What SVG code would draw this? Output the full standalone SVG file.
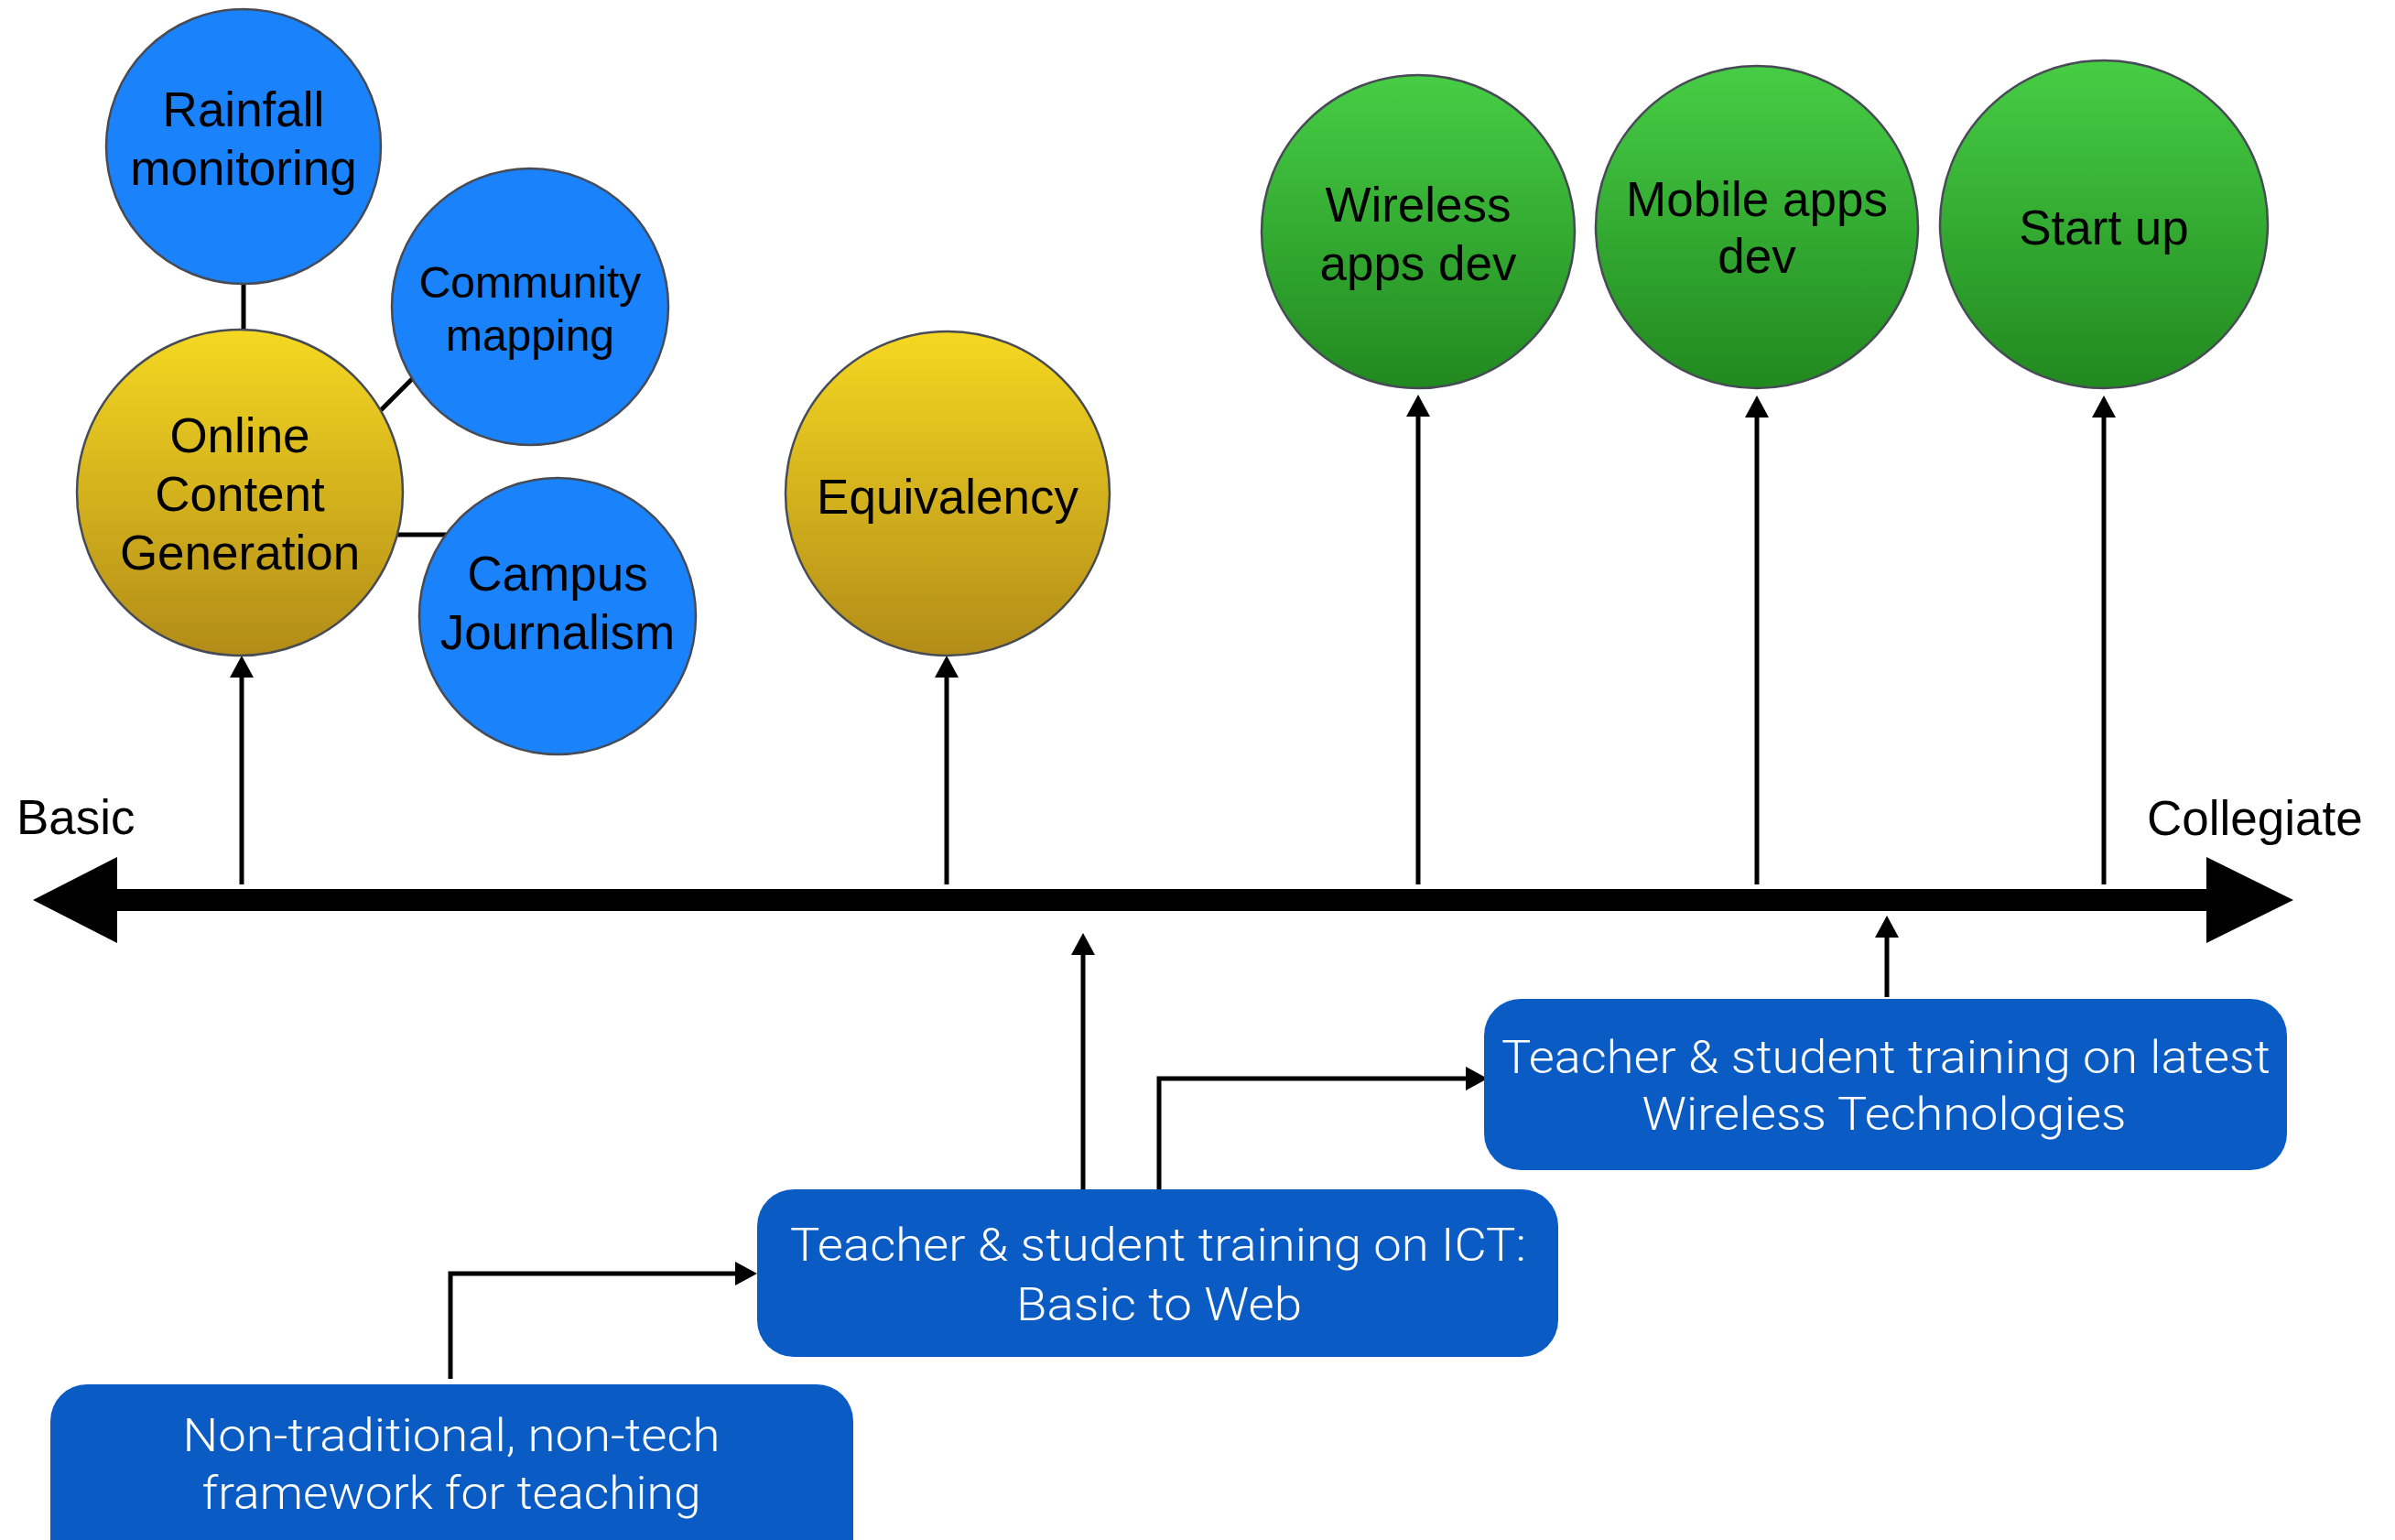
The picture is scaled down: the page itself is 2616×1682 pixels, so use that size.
<svg xmlns="http://www.w3.org/2000/svg" width="2616" height="1682" viewBox="0 0 2616 1682">
  <defs>
    <linearGradient id="gYellow" x1="0" y1="0" x2="0" y2="1">
      <stop offset="0" stop-color="#F5D822"/>
      <stop offset="1" stop-color="#B28C18"/>
    </linearGradient>
    <linearGradient id="gGreen" x1="0" y1="0" x2="0" y2="1">
      <stop offset="0" stop-color="#47CD45"/>
      <stop offset="1" stop-color="#21891F"/>
    </linearGradient>
    <marker id="ah" markerUnits="userSpaceOnUse" markerWidth="26" markerHeight="26" refX="0" refY="13" orient="auto">
      <path d="M0,0 L24,13 L0,26 z" fill="#000"/>
    </marker>
    <style>
      .blue { fill: #1A82FB; stroke: #474B55; stroke-width: 2.5; }
      .yel { fill: url(#gYellow); stroke: #474B55; stroke-width: 2.5; }
      .grn { fill: url(#gGreen); stroke: #474B55; stroke-width: 2.5; }
      .lbl { font-family: "Liberation Sans", Arial, sans-serif; font-size: 53px; fill: #000; text-anchor: middle; }
      .axl { font-family: "Liberation Sans", Arial, sans-serif; font-size: 53px; fill: #000; }
      .box { fill: #0B5BC4; }
      .bt { font-family: Roboto, "Liberation Sans", sans-serif; font-weight: 300; font-size: 50px; fill: #fff; text-anchor: middle; }
      .conn { stroke: #000; stroke-width: 5; fill: none; }
    </style>
  </defs>

  <rect width="2616" height="1682" fill="#fff"/>

  <!-- Axis -->
  <g id="axis">
    <rect x="126" y="971" width="2288" height="24" fill="#000"/>
    <polygon points="36,983 128,936 128,1030" fill="#000"/>
    <polygon points="2410,936 2505,983 2410,1030" fill="#000"/>
    <text class="axl" x="18" y="911">Basic</text>
    <text class="axl" x="2345" y="912">Collegiate</text>
  </g>

  <!-- Connectors -->
  <g id="connectors">
    <line class="conn" x1="266" y1="302" x2="266" y2="373"/>
    <line class="conn" x1="414" y1="450" x2="453" y2="411"/>
    <line class="conn" x1="433" y1="584" x2="495" y2="584"/>
    <line class="conn" x1="264" y1="966" x2="264" y2="740" marker-end="url(#ah)"/>
    <line class="conn" x1="1034" y1="966" x2="1034" y2="740" marker-end="url(#ah)"/>
    <line class="conn" x1="1549" y1="966" x2="1549" y2="455" marker-end="url(#ah)"/>
    <line class="conn" x1="1919" y1="966" x2="1919" y2="456" marker-end="url(#ah)"/>
    <line class="conn" x1="2298" y1="966" x2="2298" y2="456" marker-end="url(#ah)"/>
    <line class="conn" x1="1183" y1="1303" x2="1183" y2="1043" marker-end="url(#ah)"/>
    <line class="conn" x1="2061" y1="1089" x2="2061" y2="1024" marker-end="url(#ah)"/>
    <path class="conn" d="M492,1506 V1391 H803" marker-end="url(#ah)"/>
    <path class="conn" d="M1266,1299 V1178 H1601" marker-end="url(#ah)"/>
  </g>

  <!-- Circle nodes -->
  <g id="rainfall">
    <circle class="blue" cx="266" cy="160" r="150"/>
    <text class="lbl" x="266" y="138">Rainfall</text>
    <text class="lbl" x="266" y="202">monitoring</text>
  </g>
  <g id="online">
    <circle class="yel" cx="262" cy="538" r="178"/>
    <text class="lbl" x="262" y="494">Online</text>
    <text class="lbl" x="262" y="558">Content</text>
    <text class="lbl" x="262" y="622">Generation</text>
  </g>
  <g id="community">
    <circle class="blue" cx="579" cy="335" r="151"/>
    <text class="lbl" x="579" y="325" style="font-size:48px">Community</text>
    <text class="lbl" x="579" y="383" style="font-size:48px">mapping</text>
  </g>
  <g id="campus">
    <circle class="blue" cx="609" cy="673" r="151"/>
    <text class="lbl" x="609" y="645">Campus</text>
    <text class="lbl" x="609" y="709">Journalism</text>
  </g>
  <g id="equivalency">
    <circle class="yel" cx="1035" cy="539" r="177"/>
    <text class="lbl" x="1035" y="561">Equivalency</text>
  </g>
  <g id="wireless-apps">
    <circle class="grn" cx="1549" cy="253" r="171"/>
    <text class="lbl" x="1549" y="242">Wireless</text>
    <text class="lbl" x="1549" y="306">apps dev</text>
  </g>
  <g id="mobile-apps">
    <circle class="grn" cx="1919" cy="248" r="176"/>
    <text class="lbl" x="1919" y="236">Mobile apps</text>
    <text class="lbl" x="1919" y="298">dev</text>
  </g>
  <g id="startup">
    <circle class="grn" cx="2298" cy="245" r="179"/>
    <text class="lbl" x="2298" y="267">Start up</text>
  </g>

  <!-- Box nodes -->
  <g id="nontraditional">
    <rect class="box" x="55" y="1512" width="877" height="220" rx="40" ry="40"/>
    <text class="bt" x="493" y="1585" textLength="587" lengthAdjust="spacingAndGlyphs">Non-traditional, non-tech</text>
    <text class="bt" x="493" y="1648" textLength="545" lengthAdjust="spacingAndGlyphs">framework for teaching</text>
  </g>
  <g id="ict-training">
    <rect class="box" x="827" y="1299" width="875" height="183" rx="40" ry="40"/>
    <text class="bt" x="1265" y="1377" textLength="804" lengthAdjust="spacingAndGlyphs">Teacher &amp; student training on ICT:</text>
    <text class="bt" x="1266" y="1442" textLength="312" lengthAdjust="spacingAndGlyphs">Basic to Web</text>
  </g>
  <g id="wireless-training">
    <rect class="box" x="1621" y="1091" width="877" height="187" rx="40" ry="40"/>
    <text class="bt" x="2060" y="1172" textLength="840" lengthAdjust="spacingAndGlyphs">Teacher &amp; student training on latest</text>
    <text class="bt" x="2058" y="1234" textLength="529" lengthAdjust="spacingAndGlyphs">Wireless Technologies</text>
  </g>
</svg>
